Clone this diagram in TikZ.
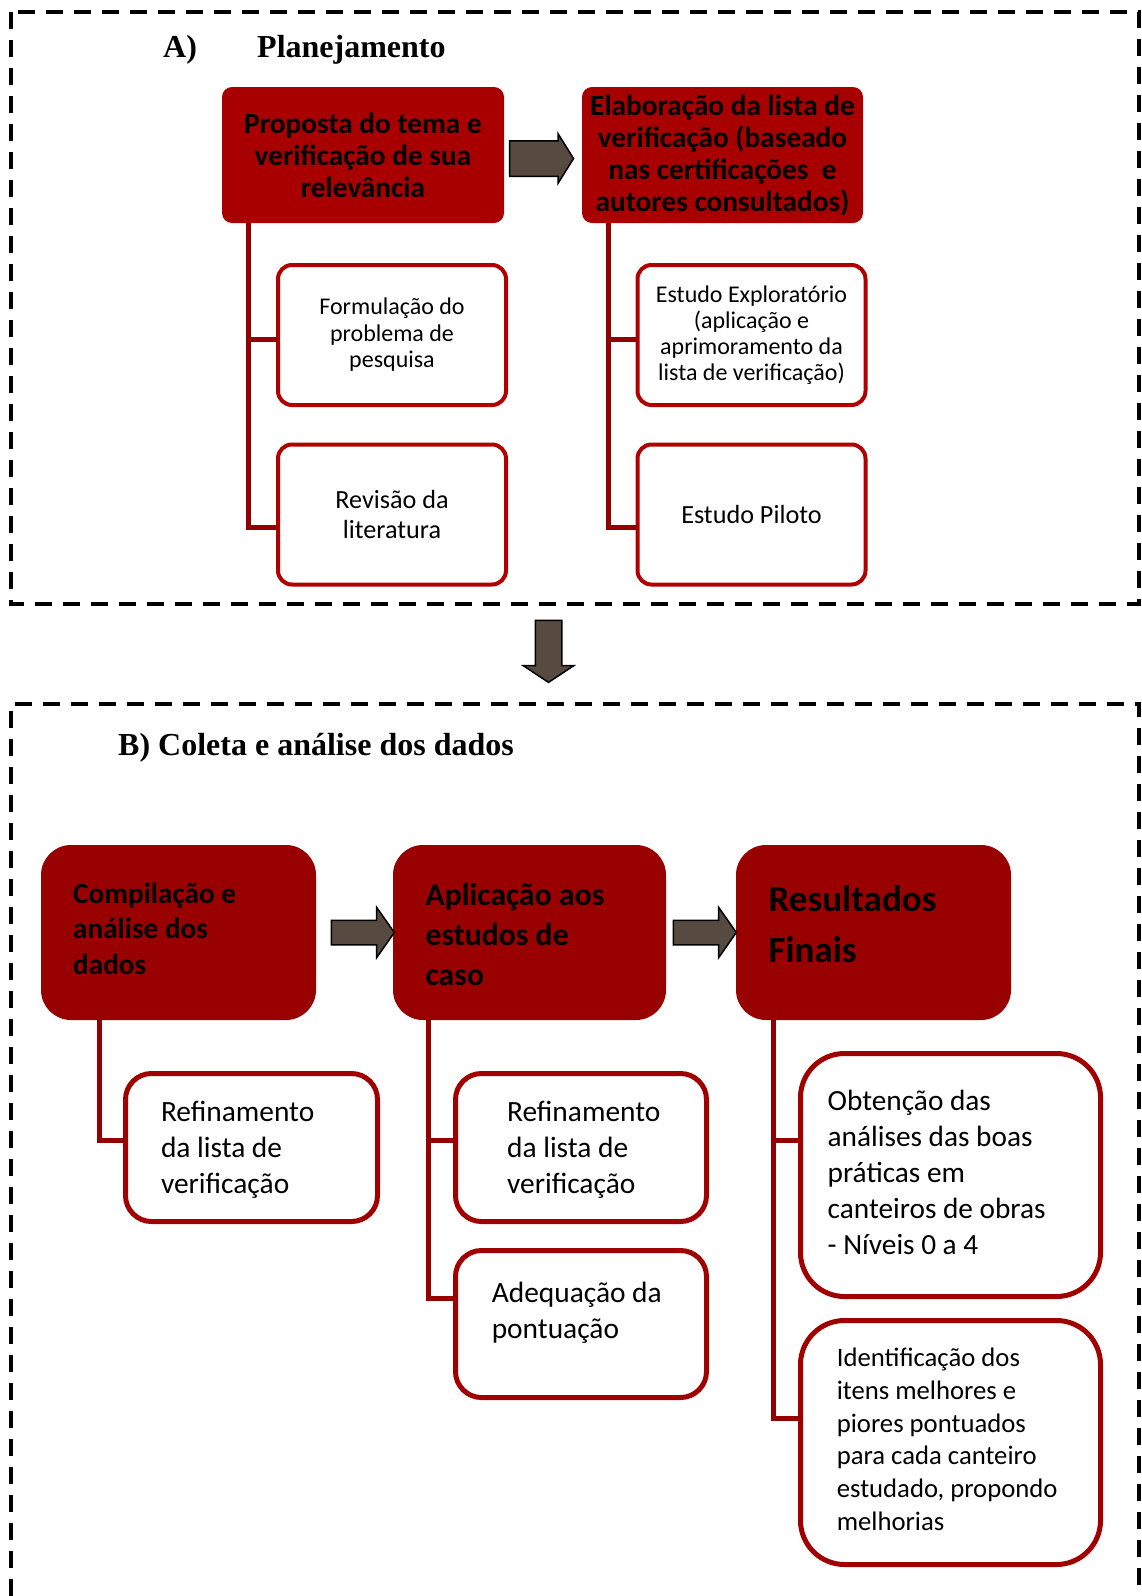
\documentclass[tikz,border=0pt]{standalone}
\usepackage{fontspec}
\setmainfont{Carlito}
\newfontfamily\headserif{Liberation Serif}
\usetikzlibrary{shapes.arrows,calc}
\definecolor{headtop}{HTML}{A80000}
\definecolor{headbot}{HTML}{990000}
\definecolor{edgetop}{HTML}{B00000}
\definecolor{edgebot}{HTML}{A00000}
\definecolor{trunkred}{HTML}{920000}
\definecolor{blockfill}{HTML}{574A40}
\newcommand{\fsz}[2]{\fontsize{#1}{#2}\selectfont}

\begin{document}
\begin{tikzpicture}[x=1pt,y=-1pt,
  dashframe/.style={line width=3.2pt,dash pattern=on 17pt off 11pt},
  frametitle/.style={font=\headserif\bfseries\fsz{32}{38},inner sep=0pt,anchor=base west},
  headA/.style={rectangle,rounded corners=10pt,fill=headtop,inner sep=0pt,outer sep=0pt,
    align=center,minimum height=136pt,font=\bfseries\fsz{29.3}{32}},
  subA/.style={rectangle,rounded corners=14pt,draw=edgetop,line width=4pt,inner sep=0pt,
    outer sep=0pt,align=center,minimum width=228pt,minimum height=140pt},
  headB/.style={rectangle,rounded corners=30pt,fill=headbot,inner sep=0pt,outer sep=0pt,
    minimum height=175pt},
  subB/.style={rectangle,draw=edgebot,line width=5pt,inner sep=0pt,outer sep=0pt},
  intext/.style={anchor=west,align=left,inner sep=0pt},
  trunk/.style={draw=trunkred,line width=5pt},
  blockarrow/.style={single arrow,draw=black,line width=1.5pt,fill=blockfill,
    inner xsep=0pt,single arrow head indent=0pt},
]
\useasboundingbox (0,0) rectangle (1141,1596);

% dashed frames of the two stages
\draw[dashframe] (11,12) rectangle (1139,604);
\draw[dashframe] (11,1596) -- (11,704) -- (1139,704) -- (1139,1596);

\node[frametitle] (tA) at (163,57) {A)};
\node[frametitle] (tPlan) at (257,57) {Planejamento};
\node[frametitle] (tB) at (118,755) {B) Coleta e análise dos dados};

% stage A
\node[headA,minimum width=282pt] (P1) at (363,155)
  {Proposta do tema e\\verificação de sua\\relevância};
\node[headA,minimum width=281pt] (P2) at (722.5,155)
  {Elaboração da lista de\\verificação (baseado\\nas certificações~ e\\autores consultados)};

\node[subA,font=\fsz{24}{26.5}] (S1) at (392,335) {Formulação do\\problema de\\pesquisa};
\node[subA,font=\fsz{26.2}{29.5}] (S2) at (392,514.5) {Revisão da\\literatura};
\node[subA,font=\fsz{24}{26.2}] (S3) at (751.5,335)
  {Estudo Exploratório\\(aplicação e\\aprimoramento da\\lista de verificação)};
\node[subA,font=\fsz{26.2}{29.5}] (S4) at (751.5,514.5) {Estudo Piloto};

\coordinate (xA) at (248,0);
\coordinate (xB) at (608,0);
\coordinate (jS1) at ($(S1.west)+(0,4)$);
\coordinate (jS2) at ($(S2.west)+(0,12.5)$);
\coordinate (jS3) at ($(S3.west)+(0,4)$);
\coordinate (jS4) at ($(S4.west)+(0,12.5)$);
\draw[trunk] (P1.south -| xA) |- (jS2);
\draw[trunk] (jS1 -| xA) -- (jS1);
\draw[trunk] (P2.south -| xB) |- (jS4);
\draw[trunk] (jS3 -| xB) -- (jS3);

\node[blockarrow,inner ysep=17pt,minimum height=64pt,single arrow head extend=7pt,
  single arrow tip angle=116] (arA) at (536,158.5) {};

% transition between the stages
\node[blockarrow,shape border rotate=270,inner xsep=12.5pt,inner ysep=12.5pt,minimum height=62pt,
  single arrow head extend=12pt,single arrow tip angle=113] (arDown) at (548.5,647) {};

% stage B
\node[headB,minimum width=275pt] (B1) at (178.5,932.5) {};
\node[headB,minimum width=273pt] (B2) at (529.5,932.5) {};
\node[headB,minimum width=275pt] (B3) at (873.5,932.5) {};
\node[intext,font=\bfseries\fsz{29.2}{35.6}] (B1t) at ($(B1.west)+(32,-3.7)$)
  {Compilação e\\análise dos\\dados};
\node[intext,font=\bfseries\fsz{31.7}{39.7}] (B2t) at ($(B2.west)+(32.4,2)$)
  {Aplicação aos\\estudos de\\caso};
\node[intext,font=\bfseries\fsz{37}{51}] (B3t) at ($(B3.west)+(32.4,-8.7)$)
  {Resultados\\Finais};

\node[blockarrow,inner ysep=11.5pt,minimum height=63pt,single arrow head extend=13pt,
  single arrow tip angle=110] (arB1) at (358.5,932.5) {};
\node[blockarrow,inner ysep=11.5pt,minimum height=63pt,single arrow head extend=13pt,
  single arrow tip angle=110] (arB2) at (700.5,932.5) {};

\node[subB,rounded corners=26pt,minimum width=252pt,minimum height=148pt] (C1) at (251.5,1147.5) {};
\node[subB,rounded corners=26pt,minimum width=251pt,minimum height=148pt] (C2) at (581,1147.5) {};
\node[subB,rounded corners=26pt,minimum width=251pt,minimum height=147pt] (C3) at (581,1324) {};
\node[subB,rounded corners=44pt,minimum width=300pt,minimum height=243pt] (C4) at (950.5,1175) {};
\node[subB,rounded corners=44pt,minimum width=300pt,minimum height=244pt] (C5) at (950.5,1442.5) {};

\node[intext,font=\fsz{29.4}{36}] (C1t) at ($(C1.west)+(35.3,2.3)$)
  {Refinamento\\da lista de\\verificação};
\node[intext,font=\fsz{29.4}{36}] (C2t) at ($(C2.west)+(51.4,2.3)$)
  {Refinamento\\da lista de\\verificação};
\node[intext,font=\fsz{29.4}{36}] (C3t) at ($(C3.west)+(36.1,-10.8)$)
  {Adequação da\\pontuação};
\node[intext,font=\fsz{29.3}{35.9}] (C4t) at ($(C4.west)+(27,-2.4)$)
  {Obtenção das\\análises das boas\\práticas em\\canteiros de obras\\- Níveis 0 a 4};
\node[intext,font=\fsz{26.7}{32.8}] (C5t) at ($(C5.west)+(36.1,-3.2)$)
  {Identificação dos\\itens melhores e\\piores pontuados\\para cada canteiro\\estudado, propondo\\melhorias};

\coordinate (x1) at (99,0);
\coordinate (x2) at (428,0);
\coordinate (x3) at (773,0);
\coordinate (jC1) at ($(C1.west)+(0,-7.5)$);
\coordinate (jC2) at ($(C2.west)+(0,-7.5)$);
\coordinate (jC3) at ($(C3.west)+(0,-26)$);
\coordinate (jC4) at ($(C4.west)+(0,-35)$);
\coordinate (jC5) at ($(C5.west)+(0,-24.5)$);
\draw[trunk] (B1.south -| x1) |- (jC1);
\draw[trunk] (B2.south -| x2) |- (jC3);
\draw[trunk] (jC2 -| x2) -- (jC2);
\draw[trunk] (B3.south -| x3) |- (jC5);
\draw[trunk] (jC4 -| x3) -- (jC4);
\end{tikzpicture}
\end{document}
